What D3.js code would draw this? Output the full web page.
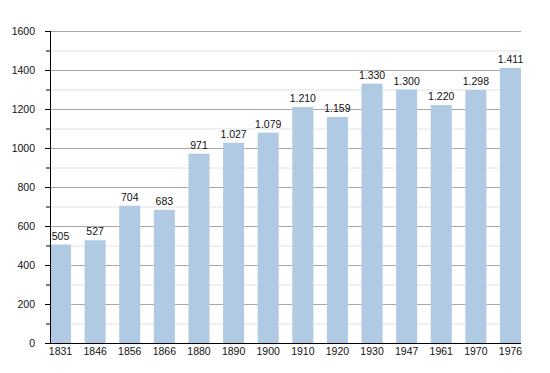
<!DOCTYPE html>
<html>
<head>
<meta charset="utf-8">
<script src="https://cdn.jsdelivr.net/npm/d3@7"></script>
<style>
  body { margin: 0; background: #fff; }
  text { font-family: "Liberation Sans", Arial, sans-serif; fill: #111; }
</style>
</head>
<body>
<svg id="chart"></svg>
<script>
const years = ["1831", "1846", "1856", "1866", "1880", "1890", "1900", "1910", "1920", "1930", "1947", "1961", "1970", "1976"];
const population = [505, 527, 704, 683, 971, 1027, 1079, 1210, 1159, 1330, 1300, 1220, 1298, 1411];
const yTicks = [0, 200, 400, 600, 800, 1000, 1200, 1400, 1600];
const yMinor = [100, 300, 500, 700, 900, 1100, 1300, 1500];

const width = 550, height = 373;
const plotLeft = 50, plotRight = 521, plotTop = 31, plotBottom = 343;
const fontSize = "10.5px";

const svg = d3.select("#chart")
    .attr("width", width)
    .attr("height", height);

const x = d3.scaleBand()
    .domain(years)
    .range([plotLeft, plotRight])
    .paddingInner(0.392)
    .paddingOuter(0);

const y = d3.scaleLinear()
    .domain([0, 1600])
    .range([plotBottom, plotTop]);

// grid lines, minor first
svg.append("g")
    .selectAll("line")
    .data(yMinor)
    .join("line")
    .attr("x1", plotLeft).attr("x2", plotRight)
    .attr("y1", d => y(d) + 0.5).attr("y2", d => y(d) + 0.5)
    .attr("stroke", "#e2e2e2");

svg.append("g")
    .selectAll("line")
    .data(yTicks.filter(d => d > 0))
    .join("line")
    .attr("x1", plotLeft).attr("x2", plotRight)
    .attr("y1", d => y(d) + 0.5).attr("y2", d => y(d) + 0.5)
    .attr("stroke", "#a8a8a8");

// bars
svg.append("g")
    .selectAll("rect")
    .data(population)
    .join("rect")
    .attr("x", (d, i) => x(years[i]))
    .attr("y", d => y(d))
    .attr("width", x.bandwidth())
    .attr("height", d => plotBottom - y(d))
    .attr("fill", "#b0cae3");

// value labels
const fmt = d => d >= 1000 ? d3.format(",")(d).replace(",", ".") : String(d);
svg.append("g")
    .selectAll("text")
    .data(population)
    .join("text")
    .attr("x", (d, i) => x(years[i]) + x.bandwidth() / 2)
    .attr("y", d => y(d) - 5)
    .attr("text-anchor", "middle")
    .style("font-size", fontSize)
    .text(fmt);

// y axis
const yAxis = svg.append("g")
    .attr("transform", `translate(${plotLeft},0)`)
    .call(d3.axisLeft(y).tickValues(yTicks).tickSize(5).tickPadding(10).tickFormat(d3.format("d")));
yAxis.selectAll("text").style("font-size", fontSize).attr("fill", "#111");
yAxis.select(".domain").attr("d", `M0.5,${plotTop}V${plotBottom}`).attr("stroke", "#000");
yAxis.selectAll(".tick line").attr("stroke", "#000");
yAxis.append("g")
    .selectAll("line")
    .data(yMinor)
    .join("line")
    .attr("x1", -4).attr("x2", 0)
    .attr("y1", d => y(d) + 0.5).attr("y2", d => y(d) + 0.5)
    .attr("stroke", "#000");

// x axis
const xAxis = svg.append("g")
    .attr("transform", `translate(0,${plotBottom})`)
    .call(d3.axisBottom(x).tickSize(0).tickPadding(5));
xAxis.selectAll("text").style("font-size", fontSize).attr("fill", "#111");
xAxis.select(".domain").attr("d", `M${plotLeft},0.5H${plotRight}`).attr("stroke", "#000");
</script>
</body>
</html>
